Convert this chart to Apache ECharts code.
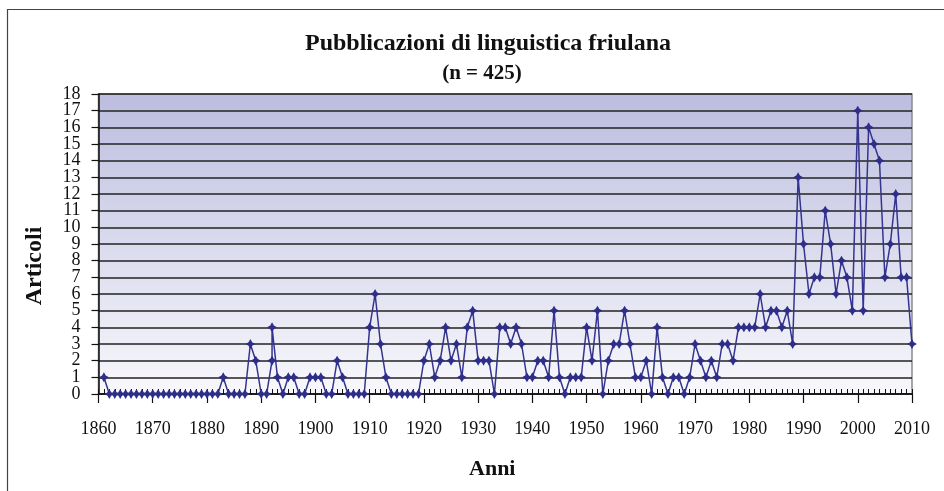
<!DOCTYPE html>
<html>
<head>
<meta charset="utf-8">
<script src="https://cdn.jsdelivr.net/npm/echarts@6/dist/echarts.min.js"></script>
<style>
  html, body { margin: 0; padding: 0; background: #fff; }
  #main { width: 944px; height: 491px; }
</style>
</head>
<body>
<div id="main"></div>
<script>
// anni (1892 compare due volte nel grafico originale)
var anni = [
  1861, 1862, 1863, 1864, 1865, 1866, 1867, 1868, 1869, 1870,
  1871, 1872, 1873, 1874, 1875, 1876, 1877, 1878, 1879, 1880,
  1881, 1882, 1883, 1884, 1885, 1886, 1887, 1888, 1889, 1890,
  1891, 1892, 1892, 1893, 1894, 1895, 1896, 1897, 1898, 1899,
  1900, 1901, 1902, 1903, 1904, 1905, 1906, 1907, 1908, 1909,
  1910, 1911, 1912, 1913, 1914, 1915, 1916, 1917, 1918, 1919,
  1920, 1921, 1922, 1923, 1924, 1925, 1926, 1927, 1928, 1929,
  1930, 1931, 1932, 1933, 1934, 1935, 1936, 1937, 1938, 1939,
  1940, 1941, 1942, 1943, 1944, 1945, 1946, 1947, 1948, 1949,
  1950, 1951, 1952, 1953, 1954, 1955, 1956, 1957, 1958, 1959,
  1960, 1961, 1962, 1963, 1964, 1965, 1966, 1967, 1968, 1969,
  1970, 1971, 1972, 1973, 1974, 1975, 1976, 1977, 1978, 1979,
  1980, 1981, 1982, 1983, 1984, 1985, 1986, 1987, 1988, 1989,
  1990, 1991, 1992, 1993, 1994, 1995, 1996, 1997, 1998, 1999,
  2000, 2001, 2002, 2003, 2004, 2005, 2006, 2007, 2008, 2009,
  2010
];

var articoli = [
  1, 0, 0, 0, 0, 0, 0, 0, 0, 0,
  0, 0, 0, 0, 0, 0, 0, 0, 0, 0,
  0, 0, 1, 0, 0, 0, 0, 3, 2, 0,
  0, 2, 4, 1, 0, 1, 1, 0, 0, 1,
  1, 1, 0, 0, 2, 1, 0, 0, 0, 0,
  4, 6, 3, 1, 0, 0, 0, 0, 0, 0,
  2, 3, 1, 2, 4, 2, 3, 1, 4, 5,
  2, 2, 2, 0, 4, 4, 3, 4, 3, 1,
  1, 2, 2, 1, 5, 1, 0, 1, 1, 1,
  4, 2, 5, 0, 2, 3, 3, 5, 3, 1,
  1, 2, 0, 4, 1, 0, 1, 1, 0, 1,
  3, 2, 1, 2, 1, 3, 3, 2, 4, 4,
  4, 4, 6, 4, 5, 5, 4, 5, 3, 13,
  9, 6, 7, 7, 11, 9, 6, 8, 7, 5,
  17, 5, 16, 15, 14, 7, 9, 12, 7, 7,
  3
];

// etichette dell'asse Y, divise in due gruppi per non farle nascondere
var tacchePari = [0, 2, 4, 6, 8, 10, 12, 14, 16, 18];
var taccheDispari = [1, 3, 5, 7, 9, 11, 13, 15, 17];

var titolo = 'Pubblicazioni di linguistica friulana';
var sottotitolo = '(n = 425)';

var serif = '"Liberation Serif", "Times New Roman", serif';

var punti = anni.map(function (a, i) { return [a, articoli[i]]; });

var chart = echarts.init(document.getElementById('main'));

var etichettaY = { fontFamily: serif, fontSize: 18, color: '#111', margin: 18 };

var option = {
  backgroundColor: '#fff',
  animation: false,
  graphic: [{
    type: 'rect',
    left: 5,
    top: 7,
    shape: { width: 1000, height: 1000 },
    style: { fill: 'none', stroke: '#444', lineWidth: 1.2 },
    silent: true
  }],
  title: [{
    text: titolo,
    left: 483,
    textAlign: 'center',
    top: 27,
    textStyle: { fontFamily: serif, fontSize: 24, fontWeight: 'bold', color: '#111' }
  }, {
    text: sottotitolo,
    left: 477,
    textAlign: 'center',
    top: 58,
    textStyle: { fontFamily: serif, fontSize: 21, fontWeight: 'bold', color: '#111' }
  }],
  grid: {
    left: 98.5,
    right: 32,
    top: 94,
    bottom: 97,
    show: true,
    borderColor: '#8a8a8a',
    borderWidth: 1.5,
    backgroundColor: new echarts.graphic.LinearGradient(0, 0, 0, 1, [
      { offset: 0, color: '#bcbddf' },
      { offset: 1, color: '#f8f8fc' }
    ])
  },
  xAxis: [{
    type: 'value',
    position: 'bottom',
    min: 1860,
    max: 2010,
    interval: 10,
    name: 'Anni',
    nameLocation: 'middle',
    nameGap: 64,
    nameTextStyle: { fontFamily: serif, fontSize: 22, fontWeight: 'bold', color: '#111', padding: [0, 26, 0, 0] },
    axisLine: { onZero: false, lineStyle: { color: '#111', width: 1.5 } },
    axisTick: { show: true, inside: false, length: 9, lineStyle: { color: '#111', width: 1.2 } },
    axisLabel: {
      fontFamily: serif, fontSize: 18, color: '#111', margin: 26,
      showMinLabel: true, showMaxLabel: true,
      formatter: function (v) { return String(v); }
    },
    splitLine: { show: false }
  }, {
    type: 'value',
    position: 'bottom',
    min: 1860,
    max: 2010,
    interval: 1,
    axisLine: { show: false, onZero: false },
    axisTick: { show: true, inside: true, length: 5, lineStyle: { color: '#111', width: 1 } },
    axisLabel: { show: false },
    splitLine: { show: false }
  }],
  yAxis: [{
    type: 'value',
    position: 'left',
    min: 0,
    max: 18,
    interval: 1,
    name: 'Articoli',
    nameLocation: 'middle',
    nameGap: 52,
    nameTextStyle: { fontFamily: serif, fontSize: 24, fontWeight: 'bold', color: '#111', padding: [0, 44, 0, 0] },
    axisLine: { show: true, lineStyle: { color: '#111', width: 1.5 } },
    axisTick: { show: true, length: 7, lineStyle: { color: '#111', width: 1.2 } },
    axisLabel: Object.assign({ customValues: tacchePari }, etichettaY),
    splitLine: { show: true, lineStyle: { color: '#222', width: 1.5 } }
  }, {
    type: 'value',
    position: 'left',
    offset: 0,
    min: 0,
    max: 18,
    interval: 1,
    axisLine: { show: false },
    axisTick: { show: false },
    axisLabel: Object.assign({ customValues: taccheDispari }, etichettaY),
    splitLine: { show: false }
  }],
  series: [{
    type: 'line',
    xAxisIndex: 0,
    yAxisIndex: 0,
    data: punti,
    symbol: 'path://M0,-6 L2.2,-2.2 L6,0 L2.2,2.2 L0,6 L-2.2,2.2 L-6,0 L-2.2,-2.2 Z',
    symbolSize: 10,
    showAllSymbol: true,
    itemStyle: { color: '#2e2e88' },
    lineStyle: { color: '#34348e', width: 1.5 }
  }]
};

chart.setOption(option);
</script>
</body>
</html>
